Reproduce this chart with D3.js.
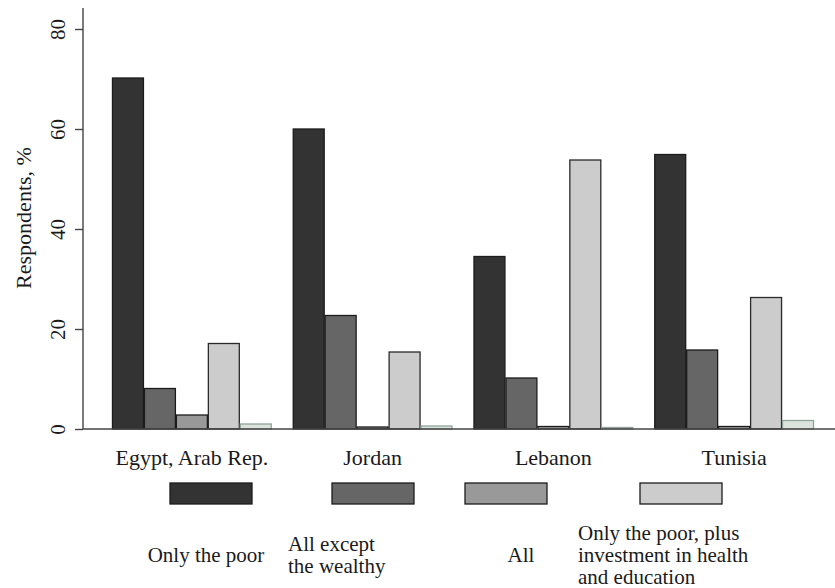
<!DOCTYPE html>
<html>
<head>
<meta charset="utf-8">
<script src="https://cdn.jsdelivr.net/npm/d3@7"></script>
<style>
  body { margin: 0; background: #fff; }
  text { font-family: "Liberation Serif", "DejaVu Serif", serif; fill: #1a1a1a; }
</style>
</head>
<body>
<svg id="chart" width="835" height="588"></svg>
<script>
(function(){

  // DATA ////////////////////////////////////////////////////////////////////

  var countries = ["Egypt, Arab Rep.", "Jordan", "Lebanon", "Tunisia"];
  var seriesNames = ["Only the poor", "All except the wealthy", "All",
                     "Only the poor, plus investment in health and education", "Other"];

  var onlyPoor      = [70.2, 60.0, 34.5, 54.9];
  var exceptWealthy = [8.1, 22.7, 10.2, 15.8];
  var all           = [2.8, 0.4, 0.5, 0.5];
  var poorPlus      = [17.1, 15.4, 53.8, 26.3];
  var other         = [1.0, 0.6, 0.3, 1.7];

  var yTicks = [0, 20, 40, 60, 80];

  // legend text, one array per key (lines)
  var legendLines = [
    ["Only the poor"],
    ["All except", "the wealthy"],
    ["All"],
    ["Only the poor, plus", "investment in health", "and education"]
  ];

  var values = [onlyPoor, exceptWealthy, all, poorPlus, other];

  // STYLE ///////////////////////////////////////////////////////////////////

  var fills   = ["#333333", "#666666", "#999999", "#cccccc", "#dce3df"];
  var strokes = ["#1c1c1c", "#1c1c1c", "#1c1c1c", "#2a2a2a", "#8fa59b"];

  var svg = d3.select("#chart");

  var axisX = 83;
  var y = d3.scaleLinear().domain([0, 80]).range([429, 29]);

  var x0 = d3.scaleBand()
    .domain(countries)
    .range([101.5, 824.5])
    .paddingInner(0.116)
    .paddingOuter(0.058);

  var x1 = d3.scaleBand()
    .domain(d3.range(values.length))
    .range([0, x0.bandwidth()]);

  // BARS ////////////////////////////////////////////////////////////////////

  var rows = countries.map(function(c, i){
    return values.map(function(s, k){ return { country: c, k: k, v: s[i] }; });
  });

  var groups = svg.selectAll("g.group")
    .data(rows)
    .enter()
    .append("g")
    .attr("class", "group")
    .attr("transform", function(d){ return "translate(" + x0(d[0].country) + ",0)"; });

  groups.selectAll("rect")
    .data(function(d){ return d; })
    .enter()
    .append("rect")
    .attr("x", function(d){ return x1(d.k) + 0.5; })
    .attr("width", x1.bandwidth() - 1)
    .attr("y", function(d){ return y(d.v); })
    .attr("height", function(d){ return y(0) - y(d.v); })
    .attr("fill", function(d){ return fills[d.k]; })
    .attr("stroke", function(d){ return strokes[d.k]; })
    .attr("stroke-width", 1.3);

  // AXES ////////////////////////////////////////////////////////////////////

  svg.append("line")
    .attr("x1", axisX).attr("x2", 835)
    .attr("y1", y(0)).attr("y2", y(0))
    .attr("stroke", "#444").attr("stroke-width", 1.4);

  svg.append("line")
    .attr("x1", axisX).attr("x2", axisX)
    .attr("y1", 8).attr("y2", y(0))
    .attr("stroke", "#444").attr("stroke-width", 1.4);

  var yAxis = d3.axisLeft(y).tickValues(yTicks).tickSize(8).tickPadding(0).tickFormat(d3.format("d"));
  var ya = svg.append("g").attr("transform", "translate(" + axisX + ",0)").call(yAxis);
  ya.select(".domain").remove();
  ya.selectAll(".tick line").attr("stroke", "#444").attr("stroke-width", 1.4);
  ya.selectAll(".tick text")
    .attr("x", null).attr("dy", null)
    .attr("text-anchor", "middle")
    .attr("transform", "translate(-25,0) rotate(-90)")
    .attr("dy", "0.35em")
    .style("font-family", "'Liberation Serif', serif")
    .style("font-size", "21px")
    .attr("fill", "#1a1a1a");

  svg.append("text")
    .attr("transform", "translate(31,218) rotate(-90)")
    .attr("text-anchor", "middle")
    .style("font-size", "22px")
    .text("Respondents, %");

  svg.selectAll("text.country")
    .data(countries)
    .enter()
    .append("text")
    .attr("class", "country")
    .attr("x", function(d){ return x0(d) + x0.bandwidth() / 2; })
    .attr("y", 465)
    .attr("text-anchor", "middle")
    .style("font-size", "22px")
    .text(function(d){ return d; });

  // LEGEND //////////////////////////////////////////////////////////////////

  var keyX = [170, 332, 465, 640];
  var textX = [206, 288, 521, 578];
  var textAnchor = ["middle", "start", "middle", "start"];
  var lineH = 22;

  var keys = svg.selectAll("g.key")
    .data(legendLines)
    .enter()
    .append("g")
    .attr("class", "key");

  keys.append("rect")
    .attr("x", function(d, i){ return keyX[i]; })
    .attr("y", 483)
    .attr("width", 82)
    .attr("height", 21)
    .attr("fill", function(d, i){ return fills[i]; })
    .attr("stroke", "#1c1c1c")
    .attr("stroke-width", 1.3);

  keys.each(function(lines, i){
    var g = d3.select(this);
    var top = 562 - (lines.length - 1) * lineH / 2;
    lines.forEach(function(line, j){
      g.append("text")
        .attr("x", textX[i])
        .attr("y", top + j * lineH)
        .attr("text-anchor", textAnchor[i])
        .style("font-size", "21px")
        .text(line);
    });
  });

})();
</script>
</body>
</html>
